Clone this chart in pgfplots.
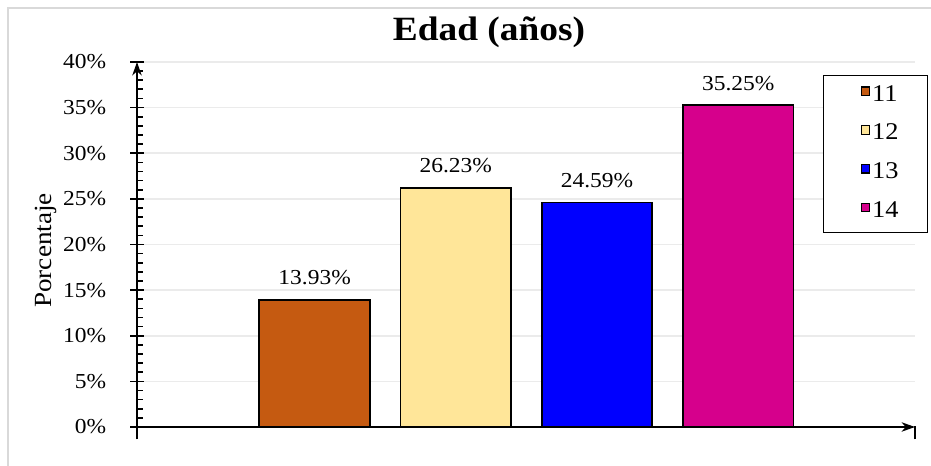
\documentclass[border=0pt]{standalone}
\usepackage{fontspec}
\setmainfont{Liberation Serif}[FakeStretch=1.1]
\usepackage{pgfplots}
\pgfplotsset{compat=1.18}
\usetikzlibrary{arrows.meta}
\definecolor{c11}{RGB}{197,90,17}
\definecolor{c12}{RGB}{255,230,153}
\definecolor{c13}{RGB}{0,0,255}
\definecolor{c14}{RGB}{214,0,140}
\definecolor{gridc}{RGB}{235,235,235}
\definecolor{framec}{RGB}{217,217,217}
\begin{document}
\begin{tikzpicture}
\useasboundingbox (0,0) rectangle (698.25pt,349.5pt);
\draw[framec, line width=1pt] (6pt,-20pt) -- (6pt,343.5pt) -- (720pt,343.5pt);
\begin{axis}[
  at={(102.75pt,29.25pt)}, anchor=south west,
  scale only axis, width=583.5pt, height=273.75pt,
  xmin=-0.258, xmax=5.252, ymin=0, ymax=40,
  axis lines=left,
  axis line style={line width=1.4pt, -{Stealth[length=10pt,width=7pt,inset=3pt]}},
  ybar, bar width=83pt,
  xtick={-0.258,5.252}, xticklabels={},
  ytick={0,5,...,40}, minor y tick num=4,
  yticklabel={\pgfmathprintnumber{\tick}\%},
  yticklabel style={inner xsep=0pt, xshift=-18pt},
  /pgf/number format/assume math mode=true,
  tick align=center,
  major tick length=9.75pt, minor tick length=4.5pt,
  tick style={black, line width=1.3pt},
  minor y tick style={xshift=2.25pt},
  major x tick style={yshift=-4.5pt},
  ymajorgrids, grid style={gridc, line width=1.3pt},
  tick label style={font=\fontsize{16}{19}\selectfont},
  title={\textbf{Edad (años)}},
  title style={font=\fontsize{25.5}{30}\selectfont, at={(axis description cs:0.4524,1.0356)}, anchor=base, inner sep=0pt},
  ylabel={Porcentaje},
  ylabel style={font=\fontsize{18.5}{22}\selectfont, at={(axis description cs:-0.117,0.4836)}, anchor=center, rotate=0},
  nodes near coords={\pgfmathprintnumber[fixed,fixed zerofill,precision=2]{\pgfplotspointmeta}\%},
  every node near coord/.append style={font=\fontsize{16}{19}\selectfont, anchor=base, yshift=11.5pt, inner sep=0pt, black},
  legend style={at={(axis description cs:0.8817,0.9644)}, anchor=north west,
    draw=black, line width=1pt, inner xsep=0pt, inner ysep=8pt, row sep=15pt,
    font=\fontsize{18}{20}\selectfont,
    nodes={text height=11pt, text depth=3pt, inner ysep=0pt, inner xsep=1.5pt}},
  legend cell align=left,
  legend image code/.code={\path (0pt,0pt); \draw[#1, draw=black, line width=1pt] (27.5pt,0.3pt) rectangle (33.8pt,6.6pt);},
]
\addplot[fill=c11, draw=black, line width=1.3pt, bar shift=0pt] coordinates {(1,13.93)};
\addlegendentry{\makebox[40pt][l]{11}}
\addplot[fill=c12, draw=black, line width=1.3pt, bar shift=0pt] coordinates {(2,26.23)};
\addlegendentry{\makebox[40pt][l]{12}}
\addplot[fill=c13, draw=black, line width=1.3pt, bar shift=0pt] coordinates {(3,24.59)};
\addlegendentry{\makebox[40pt][l]{13}}
\addplot[fill=c14, draw=black, line width=1.3pt, bar shift=0pt] coordinates {(4,35.25)};
\addlegendentry{\makebox[40pt][l]{14}}
\end{axis}
\end{tikzpicture}
\end{document}
